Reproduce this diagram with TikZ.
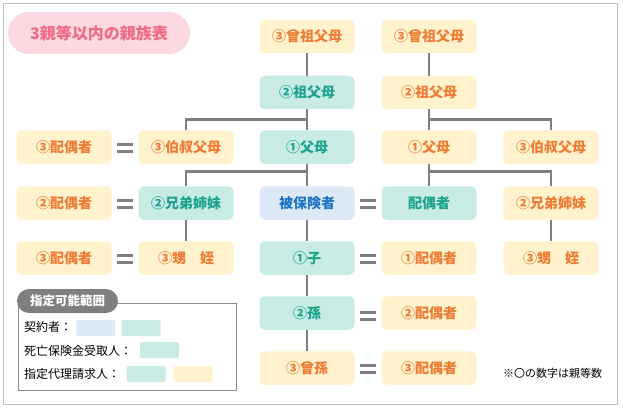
\documentclass[tikz,border=0pt]{standalone}
\usepackage{fontspec}
\setmainfont{Noto Sans CJK JP}
\usetikzlibrary{calc}
\definecolor{orgtxt}{HTML}{EE7B33}
\definecolor{orgfill}{HTML}{FFF2CC}
\definecolor{teltxt}{HTML}{1CA38C}
\definecolor{telfill}{HTML}{C8EBE6}
\definecolor{blutxt}{HTML}{1F74C4}
\definecolor{blufill}{HTML}{DDE9F6}
\definecolor{lnclr}{HTML}{7F7F7F}
\definecolor{pinkfill}{HTML}{FCD9E0}
\definecolor{pinktxt}{HTML}{EF6A84}
\tikzset{
  base/.style={rounded corners=5pt, minimum width=95pt, minimum height=33.5pt, inner sep=0pt, font=\fontsize{14pt}{16pt}\selectfont\bfseries},
  ybox/.style={base, fill=orgfill, text=orgtxt},
  tbox/.style={base, fill=telfill, text=teltxt},
  bbox/.style={base, fill=blufill, text=blutxt},
  conn/.style={draw=lnclr, line width=2.6pt},
  swatch/.style={rounded corners=2pt, minimum width=39pt, minimum height=16pt, inner sep=0pt},
  legtxt/.style={anchor=west, inner sep=0pt, font=\fontsize{12pt}{14pt}\selectfont},
  eqsign/.pic={\draw[lnclr, line width=3.2pt] (-8,-3.3) -- (8,-3.3) (-8,3.3) -- (8,3.3);}
}
\begin{document}
\begin{tikzpicture}[x=1pt,y=-1pt]
\useasboundingbox (0,0) rectangle (623,409);
\draw[draw=black!25, line width=1pt] (3.5,3.5) rectangle (617.5,404.5);
% title
\node[fill=pinkfill, text=pinktxt, rounded corners=21pt, minimum width=182pt, minimum height=42pt, inner sep=0pt, font=\fontsize{16pt}{18pt}\selectfont\bfseries] (title) at (99,33) {3親等以内の親族表};
% nodes
\def\xA{64}\def\xB{186}\def\xC{307}\def\xD{429}\def\xE{551}
\node[ybox] (C1) at (\xC,36.5) {③曾祖父母};
\node[ybox] (D1) at (\xD,36.5) {③曾祖父母};
\node[tbox] (C2) at (\xC,92.5) {②祖父母};
\node[ybox] (D2) at (\xD,92.5) {②祖父母};
\node[ybox] (A3) at (\xA,147) {③配偶者};
\node[ybox] (B3) at (\xB,147) {③伯叔父母};
\node[tbox] (C3) at (\xC,147) {①父母};
\node[ybox] (D3) at (\xD,147) {①父母};
\node[ybox] (E3) at (\xE,147) {③伯叔父母};
\node[ybox] (A4) at (\xA,203) {②配偶者};
\node[tbox] (B4) at (\xB,203) {②兄弟姉妹};
\node[bbox] (C4) at (\xC,203) {被保険者};
\node[tbox] (D4) at (\xD,203) {配偶者};
\node[ybox] (E4) at (\xE,203) {②兄弟姉妹};
\node[ybox] (A5) at (\xA,258) {③配偶者};
\node[ybox] (B5) at (\xB,258) {③甥　姪};
\node[tbox] (C5) at (\xC,258) {①子};
\node[ybox] (D5) at (\xD,258) {①配偶者};
\node[ybox] (E5) at (\xE,258) {③甥　姪};
\node[tbox] (C6) at (\xC,313) {②孫};
\node[ybox] (D6) at (\xD,313) {②配偶者};
\node[ybox] (C7) at (\xC,368) {③曾孫};
\node[ybox] (D7) at (\xD,368) {③配偶者};
% connectors
\draw[conn] (C1) -- (C2);
\draw[conn] (C2) -- (C3);
\draw[conn] ($(C2.south)!0.5!(C3.north)$) -| (B3.north);
\draw[conn] (C3) -- (C4);
\draw[conn] ($(C3.south)!0.35!(C4.north)$) -| (B4.north);
\draw[conn] (B4) -- (B5);
\draw[conn] (C4) -- (C5);
\draw[conn] (C5) -- (C6);
\draw[conn] (C6) -- (C7);
\draw[conn] (D1) -- (D2);
\draw[conn] (D2) -- (D3);
\draw[conn] ($(D2.south)!0.5!(D3.north)$) -| (E3.north);
\draw[conn] (D3) -- (D4);
\draw[conn] ($(D3.south)!0.35!(D4.north)$) -| (E4.north);
\draw[conn] (E4) -- (E5);
% equal signs
\pic at ($(A3.east)!0.5!(B3.west)+(0,1)$) {eqsign};
\pic at ($(A4.east)!0.5!(B4.west)+(0,1)$) {eqsign};
\pic at ($(A5.east)!0.5!(B5.west)+(0,1)$) {eqsign};
\pic at ($(C4.east)!0.5!(D4.west)+(0,1)$) {eqsign};
\pic at ($(C5.east)!0.5!(D5.west)+(0,1)$) {eqsign};
\pic at ($(C6.east)!0.5!(D6.west)+(0,3)$) {eqsign};
\pic at ($(C7.east)!0.5!(D7.west)+(0,1)$) {eqsign};
% legend
\draw[draw=black!45, line width=1pt] (18.5,303.5) rectangle (236,390);
\node[fill=lnclr, text=white, rounded corners=12pt, minimum width=101pt, minimum height=24pt, inner sep=0pt, font=\fontsize{12.5pt}{14pt}\selectfont\bfseries] (legh) at (67.5,301) {指定可能範囲};
\node[legtxt] (l1) at (24,327) {契約者：};
\node[swatch, fill=blufill] (s1a) at (95.5,328) {};
\node[swatch, fill=telfill] (s1b) at (141,328) {};
\node[legtxt] (l2) at (24,351) {死亡保険金受取人：};
\node[swatch, fill=telfill] (s2a) at (159.5,350) {};
\node[legtxt] (l3) at (24,374) {指定代理請求人：};
\node[swatch, fill=telfill] (s3a) at (146,374) {};
\node[swatch, fill=orgfill] (s3b) at (193,374) {};
% note
\node[anchor=west, inner sep=0pt, font=\fontsize{11pt}{13pt}\selectfont] (note) at (503,373) {※〇の数字は親等数};
\end{tikzpicture}
\end{document}
